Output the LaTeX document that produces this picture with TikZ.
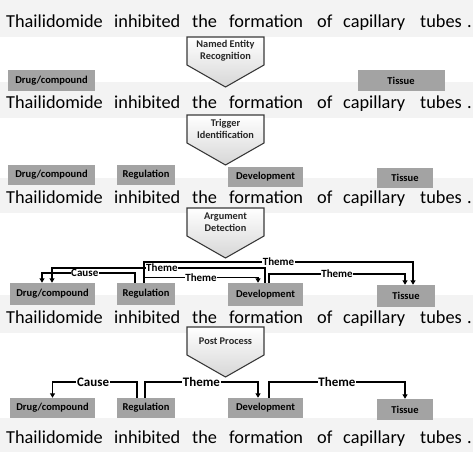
\documentclass[tikz,border=0pt]{standalone}
\usepackage{fontspec}
\setmainfont{Carlito}
\usetikzlibrary{arrows.meta,calc}
\definecolor{boxgray}{HTML}{A3A3A3}
\definecolor{bandgray}{HTML}{F3F3F3}
\definecolor{pentedge}{HTML}{3A3A3A}

\newcommand{\Sentence}[2]{%
 \node[word] (#1a) at (6,#2) {Thailidomide};
 \node[word] (#1b) at (114,#2) {inhibited};
 \node[word] (#1c) at (192,#2) {the};
 \node[word] (#1d) at (229,#2) {formation};
 \node[word] (#1e) at (317,#2) {of};
 \node[word] (#1f) at (343,#2) {capillary};
 \node[word] (#1g) at (420,#2) {tubes};
 \node[word] (#1h) at (467,#2) {.};
}
\newcommand{\Pent}[4]{%
 \path[pentshape] ({#2-38.5},#3) -- ({#2+38.5},#3) -- ({#2+38.5},{#3+28}) -- (#2,{#3+50}) -- ({#2-38.5},{#3+28}) -- cycle;
 \node[pentlabel] (#1) at (#2,{#3+14}) {#4};
}

\begin{document}
\begin{tikzpicture}[x=1pt,y=-1pt,
  word/.style={anchor=base west, inner sep=0, text=black, font=\fontsize{18.3}{20}\selectfont},
  ebox/.style={fill=boxgray, inner sep=0, minimum height=21pt, text=black, font=\fontsize{10.5}{12}\selectfont\bfseries},
  pentshape/.style={draw=pentedge, line width=1.1pt, line join=miter, top color=white, bottom color=black!16},
  pentlabel/.style={align=center, inner sep=0, text=black!85, font=\fontsize{10.3}{12.5}\selectfont\bfseries},
  conn/.style={line width=1.1pt, -{Triangle[length=4.5pt,width=5pt]}},
  lblA/.style={fill=white, inner sep=0.5pt, font=\fontsize{11}{12}\selectfont\bfseries},
  lblB/.style={fill=white, inner sep=0.8pt, font=\fontsize{13}{14}\selectfont\bfseries}]
\useasboundingbox (0,0) rectangle (473,452);
% light bands behind sentences
\fill[bandgray] (0,0) rectangle (473,37);
\fill[bandgray] (0,82) rectangle (473,118);
\fill[bandgray] (0,178) rectangle (473,213);
\fill[bandgray] (0,295) rectangle (473,333);
\fill[bandgray] (0,418) rectangle (473,452);

% sentences
\Sentence{sA}{27.5}
\Sentence{sB}{108}
\Sentence{sC}{203}
\Sentence{sD}{323}
\Sentence{sE}{443}

% process steps
\Pent{ner}{225.5}{37}{Named Entity\\Recognition}
\Pent{trig}{225.5}{115}{Trigger\\Identification}
\Pent{arg}{225.5}{208}{Argument\\Detection}
\Pent{post}{225.5}{327}{Post Process}

% row 1 boxes
\node[ebox, minimum width=87pt] (drug1) at (51.5,80.5) {Drug/compound};
\node[ebox, minimum width=87pt] (tis1) at (401,80.5) {Tissue};
% row 2 boxes
\node[ebox, minimum width=87pt, minimum height=20pt] (drug2) at (51.5,175) {Drug/compound};
\node[ebox, minimum width=58pt, minimum height=20pt] (reg2) at (146,175) {Regulation};
\node[ebox, minimum width=75pt, minimum height=20pt] (dev2) at (265.5,176.5) {Development};
\node[ebox, minimum width=56pt, minimum height=20pt] (tis2) at (405,178) {Tissue};
% row 3 boxes
\node[ebox, minimum width=85pt, minimum height=22pt] (drug3) at (52.5,294) {Drug/compound};
\node[ebox, minimum width=58pt, minimum height=22pt] (reg3) at (146,294) {Regulation};
\node[ebox, minimum width=75pt, minimum height=23pt] (dev3) at (265.5,294.5) {Development};
\node[ebox, minimum width=58pt, minimum height=22pt] (tis3) at (406,296) {Tissue};
% row 4 boxes
\node[ebox, minimum width=85pt, minimum height=20pt] (drug4) at (52.5,408) {Drug/compound};
\node[ebox, minimum width=58pt, minimum height=20pt] (reg4) at (146,408) {Regulation};
\node[ebox, minimum width=75pt, minimum height=20pt] (dev4) at (265.5,408) {Development};
\node[ebox, minimum width=56pt, minimum height=21pt] (tis4) at (405,409.5) {Tissue};

% argument detection connectors (row 3)
\coordinate (Ca) at (0,273);
\coordinate (Ta) at (0,268);
\coordinate (Tb) at (0,262);
\coordinate (Tc) at (0,277.5);
\coordinate (Td) at (0,274);
\draw[conn] ([xshift=-0.5pt]dev3.north) -- ([xshift=-0.5pt]dev3.north |- Ta) -| node[lblA,pos=0.242]{Theme} ([xshift=-0.5pt]drug3.north);
\draw[conn] ([xshift=-11pt]reg3.north) -- ([xshift=-11pt]reg3.north |- Ca) -| node[lblA,pos=0.27]{Cause} ([xshift=-10.5pt]drug3.north);
\draw[conn] ([xshift=-2pt]reg3.north) -- ([xshift=-2pt]reg3.north |- Tb) -| node[lblA,pos=0.25]{Theme} ([xshift=7pt]tis3.north);
\draw[conn] ([xshift=-2pt]reg3.north |- Tc) -| node[lblA,pos=0.25]{Theme} ([xshift=-7.5pt]dev3.north);
\draw[conn] ([xshift=3.5pt]dev3.north) -- ([xshift=3.5pt]dev3.north |- Td) -| node[lblA,pos=0.25]{Theme} ([xshift=-1pt]tis3.north);

% post process connectors (row 4)
\coordinate (L4) at (0,382);
\draw[conn] ([xshift=-9pt]reg4.north) -- ([xshift=-9pt]reg4.north |- L4) -| node[lblB,pos=0.26]{Cause} (drug4.north);
\draw[conn] ([xshift=-1pt]reg4.north) -- ([xshift=-1pt]reg4.north |- L4) -| node[lblB,pos=0.25]{Theme} ([xshift=-7.5pt]dev4.north);
\draw[conn] ([xshift=3.5pt]dev4.north) -- ([xshift=3.5pt]dev4.north |- L4) -| node[lblB,pos=0.25]{Theme} (tis4.north);
\end{tikzpicture}
\end{document}
